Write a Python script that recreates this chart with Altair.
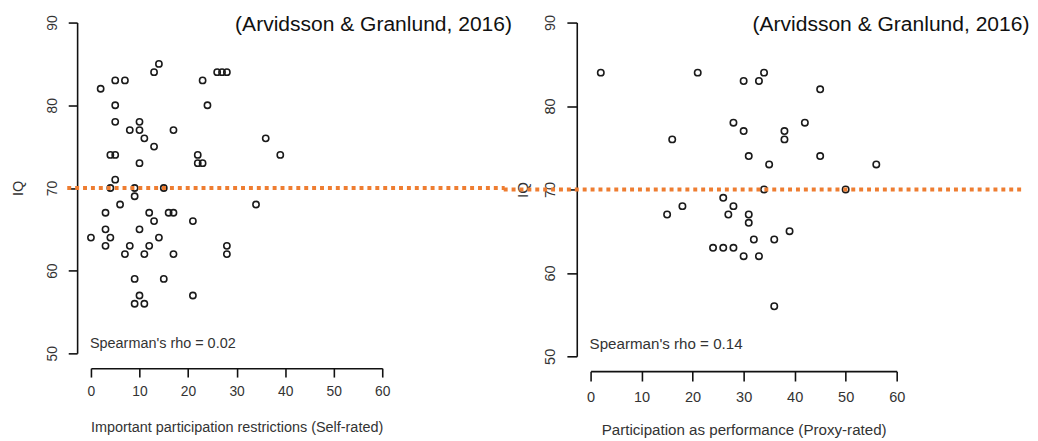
import altair as alt
import pandas as pd

# ---- data ----
left_x = [0, 2, 3, 3, 3, 4, 4, 4, 5, 5, 5, 5, 5, 6, 7, 7, 8, 8, 9, 9, 9, 9,
          10, 10, 10, 10, 10, 11, 11, 11, 12, 12, 13, 13, 13, 14, 14, 15, 15,
          16, 17, 17, 17, 21, 21, 22, 22, 23, 23, 24, 26, 27, 28, 28, 28, 34, 36, 39]
left_iq = [64, 82, 67, 65, 63, 74, 70, 64, 83, 80, 78, 74, 71, 68, 83, 62, 77, 63,
           70, 69, 59, 56, 78, 77, 73, 65, 57, 76, 62, 56, 67, 63, 84, 75, 66, 85,
           64, 70, 59, 67, 77, 67, 62, 66, 57, 74, 73, 83, 73, 80, 84, 84, 84, 63,
           62, 68, 76, 74]

right_x = [2, 21, 30, 33, 34, 45, 28, 42, 30, 38, 38, 16, 31, 45, 35, 56, 34, 50,
           26, 18, 28, 15, 27, 31, 31, 39, 32, 36, 24, 26, 28, 30, 33, 36]
right_iq = [84, 84, 83, 83, 84, 82, 78, 78, 77, 77, 76, 76, 74, 74, 73, 73, 70, 70,
            69, 68, 68, 67, 67, 67, 66, 65, 64, 64, 63, 63, 63, 62, 62, 56]

x_ticks = [0, 10, 20, 30, 40, 50, 60]
y_ticks = [50, 60, 70, 80, 90]
cutoff_iq = [70]
source_label = ["(Arvidsson & Granlund, 2016)"]
left_rho = ["Spearman's rho = 0.02"]
right_rho = ["Spearman's rho = 0.14"]
left_xtitle = "Important participation restrictions (Self-rated)"
right_xtitle = "Participation as performance (Proxy-rated)"
y_title = "IQ"

FONT = "Liberation Sans"
ORANGE = "#EE7D31"
INK = "#1a1a1a"


def panel(xs, ys, w, h, xtitle, rho, f, rule_from, rule_to, src_x, x_off,
          x_tick, x_lpad, x_tpad, y_tick, y_lpad, y_tpad):
    df = pd.DataFrame({"x": xs, "iq": ys})
    xscale = alt.Scale(domain=[0, 60], nice=False, zero=False)
    yscale = alt.Scale(domain=[50, 90], nice=False, zero=False)
    xaxis = alt.Axis(values=x_ticks, title=xtitle, offset=x_off, tickSize=x_tick,
                     labelPadding=x_lpad, titlePadding=x_tpad, grid=False,
                     domainColor="#111", tickColor="#111", domainWidth=1.6,
                     tickWidth=1.6, labelFontSize=14 * f, titleFontSize=14.6 * f,
                     labelColor="#333", titleColor="#333", labelFont=FONT,
                     titleFont=FONT, titleFontWeight="normal", labelFlush=False)
    yaxis = alt.Axis(values=y_ticks, title=y_title, offset=14, tickSize=y_tick,
                     labelPadding=y_lpad, titlePadding=y_tpad, grid=False,
                     labelAngle=270, domainColor="#111", tickColor="#111",
                     domainWidth=1.6, tickWidth=1.6, labelFontSize=14 * f,
                     titleFontSize=14.6 * f, labelColor="#333", titleColor="#333",
                     labelFont=FONT, titleFont=FONT, titleFontWeight="normal",
                     labelFlush=False)
    points = alt.Chart(df).mark_point(
        shape="circle", filled=False, size=40 * f, strokeWidth=1.6,
        color=INK, opacity=1,
    ).encode(
        x=alt.X("x:Q", scale=xscale, axis=xaxis),
        y=alt.Y("iq:Q", scale=yscale, axis=yaxis),
    )
    rule = alt.Chart(pd.DataFrame({"iq": cutoff_iq})).mark_rule(
        color=ORANGE, strokeWidth=4, strokeDash=[4, 4],
    ).encode(
        y=alt.Y("iq:Q", scale=yscale),
        x=alt.value(rule_from), x2=alt.value(rule_to),
    )
    src = alt.Chart(pd.DataFrame({"t": source_label})).mark_text(
        align="left", baseline="middle", font=FONT, fontSize=21.3, color="#111",
    ).encode(text="t:N", x=alt.value(src_x), y=alt.value(3))
    rho_txt = alt.Chart(pd.DataFrame({"t": rho})).mark_text(
        align="left", baseline="middle", font=FONT, fontSize=14.6 * f, color="#333",
    ).encode(text="t:N", x=alt.value(-1), y=alt.value(326))
    return alt.layer(points, rule, src, rho_txt).properties(width=w, height=h)


left = panel(left_x, left_iq, 295, 335, left_xtitle, left_rho, 1.0,
             -24, 419, 146, 15, 9, 8, 21, 9, 9, 20)
right = panel(right_x, right_iq, 310, 338, right_xtitle, right_rho, 1.05,
              -88, 438, 164, 15, 10, 9, 18, 10, 10, 12)

chart = alt.hconcat(left, right, spacing=211, bounds="flush").properties(
    padding={"left": 3, "top": 3, "right": 0, "bottom": 0},
    background="white",
).configure(
    font=FONT,
    view=alt.ViewConfig(stroke="transparent", strokeWidth=0),
)

chart.save("out.html", embed_options={"renderer": "svg", "actions": False})
